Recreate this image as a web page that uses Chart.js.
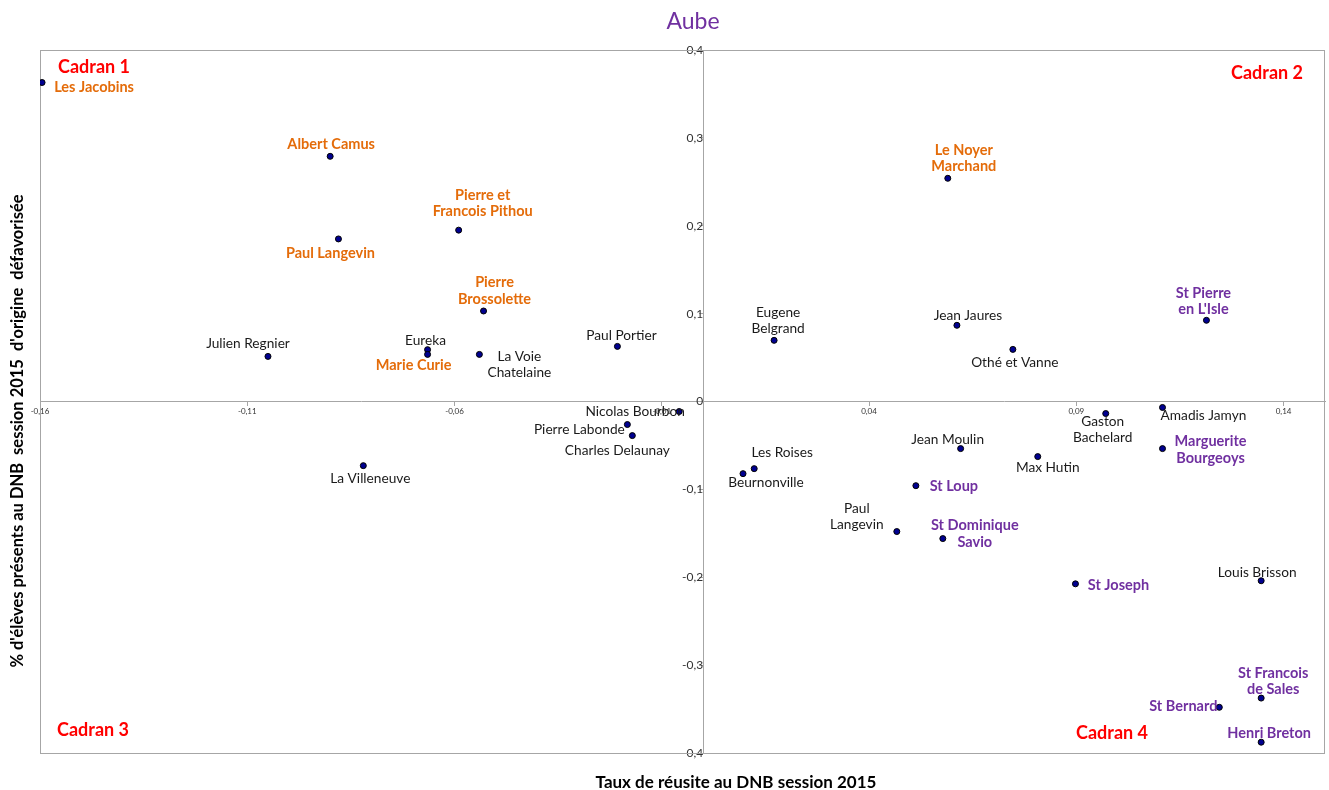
<!DOCTYPE html>
<html>
<head>
<meta charset="utf-8">
<script src="https://cdn.jsdelivr.net/npm/chart.js@4.4.0/dist/chart.umd.min.js"></script>
<style>
  html, body { margin: 0; padding: 0; background: #fff; }
  #wrap { width: 1329px; height: 790px; position: relative; }
</style>
</head>
<body>
<div id="wrap"><canvas id="chart" width="1329" height="790"></canvas></div>
<script>
// --- données : collèges de l'Aube ---
const colleges = [
  'Les Jacobins', 'Albert Camus', 'Paul Langevin', 'Pierre et\nFrancois Pithou', 'Pierre\nBrossolette',
  'Eureka', 'Marie Curie', 'La Voie\nChatelaine', 'Julien Regnier', 'Paul Portier',
  'Nicolas Bourbon', 'Pierre Labonde', 'Charles Delaunay', 'La Villeneuve', 'Eugene\nBelgrand',
  'Le Noyer\nMarchand', 'Jean Jaures', 'Othé et Vanne', "St Pierre\nen L'Isle", 'Gaston\nBachelard',
  'Amadis Jamyn', 'Marguerite\nBourgeoys', 'Jean Moulin', 'Max Hutin', 'Les Roises',
  'Beurnonville', 'St Loup', 'Paul\nLangevin', 'St Dominique\nSavio', 'St Joseph',
  'Louis Brisson', 'St Francois\nde Sales', 'St Bernard', 'Henri Breton'
];
// taux de réussite (écart)
const tauxReussite = [
  -0.1595, -0.090, -0.088, -0.059, -0.053,
  -0.0665, -0.0665, -0.054, -0.105, -0.0207,
  -0.0058, -0.0183, -0.0171, -0.082, 0.0171,
  0.059, 0.0612, 0.0747, 0.1214, 0.0971,
  0.1108, 0.1108, 0.0621, 0.0807, 0.0123,
  0.0096, 0.0513, 0.0467, 0.0578, 0.0898,
  0.1346, 0.1346, 0.1245, 0.1346
];
// % d'élèves d'origine défavorisée (écart)
const origineDefav = [
  0.363, 0.279, 0.185, 0.195, 0.103,
  0.059, 0.0536, 0.0536, 0.0513, 0.0627,
  -0.0114, -0.0262, -0.0388, -0.073, 0.0696,
  0.254, 0.0867, 0.0593, 0.0924, -0.0137,
  -0.0068, -0.0536, -0.0536, -0.0627, -0.0764,
  -0.0821, -0.0958, -0.148, -0.156, -0.2075,
  -0.204, -0.3375, -0.348, -0.3877
];
// type d'établissement : 'o' = orange, 'p' = privé (violet), 'n' = normal
const typeEtab = [
  'o','o','o','o','o',
  'n','o','n','n','n',
  'n','n','n','n','n',
  'o','n','n','p','n',
  'n','p','n','n','n',
  'n','p','n','p','p',
  'n','p','p','p'
];
const xTicks = [-0.16, -0.11, -0.06, -0.01, 0.04, 0.09, 0.14];
const yTicks = [-0.4, -0.3, -0.2, -0.1, 0, 0.1, 0.2, 0.3, 0.4];
const cadrans = ['Cadran 1', 'Cadran 2', 'Cadran 3', 'Cadran 4'];

// décalage des étiquettes (px, centre du bloc par rapport au point)
const labelOffsets = [
  [52, 5], [1, -12], [-8, 14], [24, -27], [11, -20],
  [-2, -9], [-14, 11], [40, 10], [-20, -13], [4, -11],
  [-44, 0], [-48, 5], [-15, 15], [7, 13], [4, -20],
  [16, -20], [11, -10], [2, 13], [-3, -19], [-3, 16],
  [41, 8], [48, 1], [-13, -9], [10, 11], [28, -16],
  [23, 9], [38, 1], [-40, -15], [32, -5], [43, 1],
  [-4, -8], [12, -17], [-36, -1], [8, -9]
];
const cadranPos = [[94, 67], [1267, 73], [93, 730], [1112, 733]];
const couleurs = { o: '#E46C0A', p: '#7030A0', n: '#1a1a1a' };

const fmt = v => {
  const r = Math.round(v * 100) / 100;
  return r === 0 ? '0' : String(r).replace('.', ',');
};

const decorPlugin = {
  id: 'decor',
  beforeDatasetsDraw(chart) {
    const { ctx, chartArea: a } = chart;
    ctx.save();
    ctx.strokeStyle = '#a6a6a6';
    ctx.lineWidth = 1;
    ctx.strokeRect(a.left + 0.5, a.top + 0.5, a.right - a.left - 1, a.bottom - a.top);
    ctx.restore();
  },
  afterDatasetsDraw(chart) {
    const { ctx } = chart;
    const xs = chart.scales.x, ys = chart.scales.y;
    ctx.save();
    ctx.textAlign = 'center';
    ctx.textBaseline = 'middle';
    // étiquettes des collèges
    colleges.forEach((name, i) => {
      const px = xs.getPixelForValue(tauxReussite[i]);
      const py = ys.getPixelForValue(origineDefav[i]);
      const t = typeEtab[i];
      ctx.fillStyle = couleurs[t];
      ctx.font = t === 'n' ? '13.7px Lato' : 'bold 14.5px Lato';
      const lines = name.split('\n');
      const lh = 16.5;
      const cy = py + labelOffsets[i][1] - (lines.length - 1) * lh / 2;
      lines.forEach((ln, k) => ctx.fillText(ln, px + labelOffsets[i][0], cy + k * lh));
    });
    // cadrans
    ctx.fillStyle = '#FF0000';
    ctx.font = 'bold 18px Lato';
    cadrans.forEach((c, i) => ctx.fillText(c, cadranPos[i][0], cadranPos[i][1]));
    // titre
    ctx.fillStyle = '#7030A0';
    ctx.font = '23px Lato';
    ctx.fillText('Aube', 693, 22);
    // titres des axes
    ctx.fillStyle = '#000';
    ctx.font = 'bold 17px Lato';
    ctx.fillText('Taux de réusite au DNB session 2015', 736, 783);
    ctx.translate(18, 431);
    ctx.rotate(-Math.PI / 2);
    ctx.font = 'bold 16.5px Lato';
    ctx.fillText("% d'élèves présents au DNB  session 2015  d'origine  défavorisée", 0, 0);
    ctx.restore();
  }
};

new Chart(document.getElementById('chart'), {
  type: 'scatter',
  data: {
    datasets: [{
      data: tauxReussite.map((x, i) => ({ x: x, y: origineDefav[i] })),
      pointRadius: 3,
      pointHoverRadius: 3,
      backgroundColor: '#000090',
      borderColor: '#000000',
      borderWidth: 1
    }]
  },
  options: {
    responsive: false,
    animation: false,
    layout: { padding: { left: 40, top: 50, right: 2, bottom: 37 } },
    plugins: { legend: { display: false }, tooltip: { enabled: false } },
    scales: {
      x: {
        type: 'linear',
        position: { y: 0 },
        min: -0.16,
        max: 0.15,
        afterBuildTicks: s => { s.ticks = xTicks.map(v => ({ value: v })); },
        grid: { drawOnChartArea: false, drawTicks: true, tickLength: 4, color: '#a6a6a6' },
        border: { color: '#a6a6a6' },
        ticks: {
          autoSkip: false, maxRotation: 0, padding: 1,
          color: '#333', font: { size: 8, family: 'Lato' },
          callback: v => fmt(v)
        }
      },
      y: {
        type: 'linear',
        position: { x: 0 },
        min: -0.4,
        max: 0.4,
        afterBuildTicks: s => { s.ticks = yTicks.map(v => ({ value: v })); },
        grid: { drawOnChartArea: false, drawTicks: true, tickLength: 4, color: '#a6a6a6' },
        border: { color: '#a6a6a6' },
        ticks: {
          autoSkip: false, padding: 2,
          color: '#333', font: { size: 12, family: 'Lato' },
          callback: v => fmt(v)
        }
      }
    }
  },
  plugins: [decorPlugin]
});
</script>
</body>
</html>
